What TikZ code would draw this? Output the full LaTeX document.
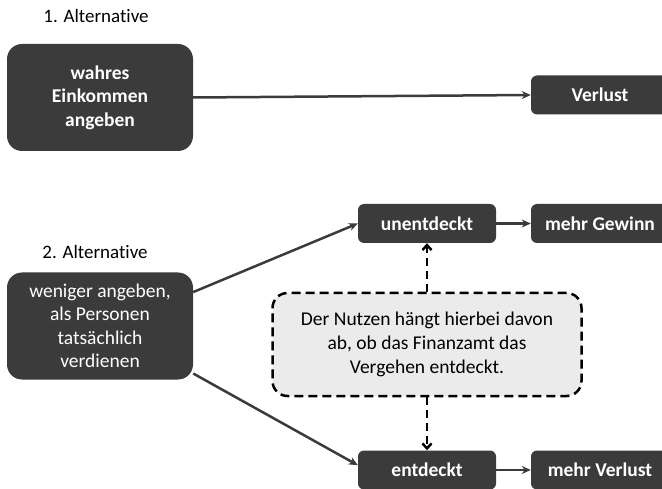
\documentclass[tikz,border=0pt]{standalone}
\usepackage{fontspec}
\setmainfont{Carlito}[Ligatures=CommonOff]
\usetikzlibrary{arrows.meta}
\definecolor{boxdark}{HTML}{3B3B3B}
\definecolor{notefill}{HTML}{EBEBEB}
\tikzset{
  darkbox/.style={fill=boxdark, text=white, align=center, font=\fontsize{19.5}{23.5}\selectfont, inner sep=0pt},
  bigbox/.style={darkbox, rounded corners=15pt, minimum width=186pt, minimum height=107pt},
  smallbox/.style={darkbox, rounded corners=6pt, minimum width=138pt, minimum height=39pt, font=\fontsize{19.5}{23.5}\selectfont\bfseries},
  notebox/.style={draw=black, fill=notefill, dashed, dash pattern=on 9pt off 5pt, line width=2.5pt, rounded corners=15pt, minimum width=309pt, minimum height=103pt, align=center, font=\fontsize{19.5}{24}\selectfont, inner sep=0pt},
  altlabel/.style={font=\fontsize{19}{22}\selectfont, inner sep=0pt},
  conn/.style={draw=boxdark, line width=2.5pt, -{Stealth[length=9pt,width=8pt]}},
  dconn/.style={draw=black, line width=2.5pt, dash pattern=on 8pt off 5pt, -{Straight Barb[length=5pt,width=9pt]}}
}
\begin{document}
\begin{tikzpicture}[x=1pt,y=-1pt]
\useasboundingbox (0,0) rectangle (662,489);
\node[altlabel] (l1) at (96,16) {1. Alternative};
\node[altlabel] (l2) at (95,252) {2. Alternative};
\node[bigbox, font=\fontsize{19.5}{23.5}\selectfont\bfseries] (b1) at (100,97.5) {wahres\\Einkommen\\angeben};
\node[smallbox] (verlust) at (600,95) {Verlust};
\node[bigbox] (b2) at (100,326) {weniger angeben,\\als Personen\\tatsächlich\\verdienen};
\node[smallbox] (unent) at (427,223.5) {unentdeckt};
\node[smallbox] (gewinn) at (600,223.5) {mehr Gewinn};
\node[smallbox] (ent) at (427,470) {entdeckt};
\node[smallbox] (mverlust) at (600,470) {mehr Verlust};
\node[notebox] (note) at (427,344.5) {Der Nutzen hängt hierbei davon\\ab, ob das Finanzamt das\\Vergehen entdeckt.};
\draw[conn] (b1.east) -- (verlust.west);
\draw[conn] (b2.20) -- (unent.west);
\draw[conn] (b2.-27) -- (ent.176);
\draw[conn] (unent.east) -- (gewinn.west);
\draw[conn] (ent.east) -- (mverlust.west);
\draw[dconn] (note.north) -- (unent.south);
\draw[dconn] (note.south) -- (ent.north);
\end{tikzpicture}
\end{document}
